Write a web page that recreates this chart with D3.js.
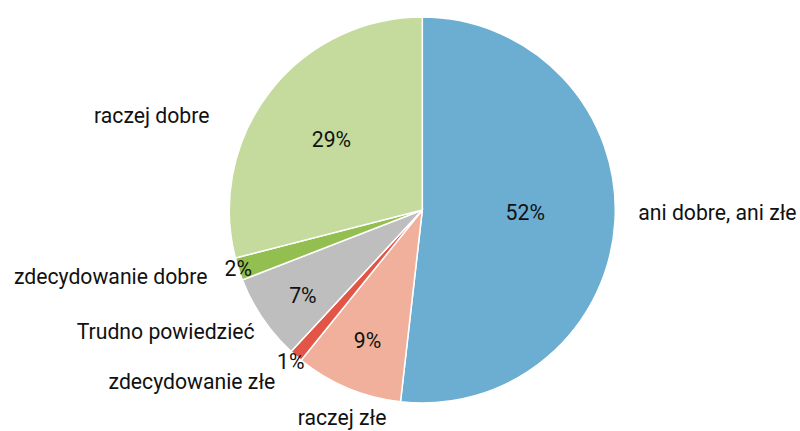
<!DOCTYPE html>
<html>
<head>
<meta charset="utf-8">
<script src="https://cdn.jsdelivr.net/npm/d3@7"></script>
<style>
  body { margin: 0; background: #fff; }
  text { font-family: Roboto, sans-serif; fill: #111; }
</style>
</head>
<body>
<svg id="chart" width="800" height="431"></svg>
<script>
// categories, clockwise from the top
const categories = [
    "ani dobre, ani złe",
    "raczej złe",
    "zdecydowanie złe",
    "Trudno powiedzieć",
    "zdecydowanie dobre",
    "raczej dobre",
];
const values = [51.8, 9.0, 1.1, 7.2, 1.9, 29.0];
const pctLabels = ["52%", "9%", "1%", "7%", "2%", "29%"];

const colors = ["#6caed1", "#f0b09b", "#e35546", "#bebebe", "#93be50", "#c4db9d"];

// label placement: [radius, angle shift in degrees]
const pctPos = [[103, -1.8], [142, 0], [201, 0], [147, -1.5], [193, 0.3], [115, 0]];
const namePos = [[216, -2.6], [223, -1.6], [226, -0.3], [207, -1.7], [225, 0.6], [233, -13.8]];
const nameAnchor = ["start", "middle", "end", "end", "end", "end"];

const cx = 422.3, cy = 210, radius = 193;
const fontSize = 21.2;

const svg = d3.select("#chart");
const g = svg.append("g").attr("transform", `translate(${cx},${cy})`);

const data = categories.map((c, i) => ({ name: c, value: values[i], pct: pctLabels[i], i: i }));

const pie = d3.pie().value((d) => d.value).sort(null);
const arc = d3.arc().innerRadius(0).outerRadius(radius);
const arcs = pie(data);

g.selectAll(".slice")
    .data(arcs)
    .enter()
    .append("path")
    .attr("class", "slice")
    .attr("d", arc)
    .attr("fill", (d) => colors[d.data.i])
    .attr("stroke", "#fff")
    .attr("stroke-width", 1.5);

function polar(d, pos) {
    const a = (d.startAngle + d.endAngle) / 2 + (pos[1] * Math.PI) / 180;
    return [Math.sin(a) * pos[0], -Math.cos(a) * pos[0]];
}

// dy nudges the em-box middle onto the visual middle of the glyphs
g.selectAll(".pct")
    .data(arcs)
    .enter()
    .append("text")
    .attr("class", "pct")
    .attr("transform", (d) => `translate(${polar(d, pctPos[d.data.i])})`)
    .attr("text-anchor", "middle")
    .attr("dy", "0.35em")
    .attr("font-size", fontSize)
    .text((d) => d.data.pct);

g.selectAll(".name")
    .data(arcs)
    .enter()
    .append("text")
    .attr("class", "name")
    .attr("transform", (d) => `translate(${polar(d, namePos[d.data.i])})`)
    .attr("text-anchor", (d) => nameAnchor[d.data.i])
    .attr("dy", "0.35em")
    .attr("font-size", fontSize)
    .text((d) => d.data.name);
</script>
</body>
</html>
